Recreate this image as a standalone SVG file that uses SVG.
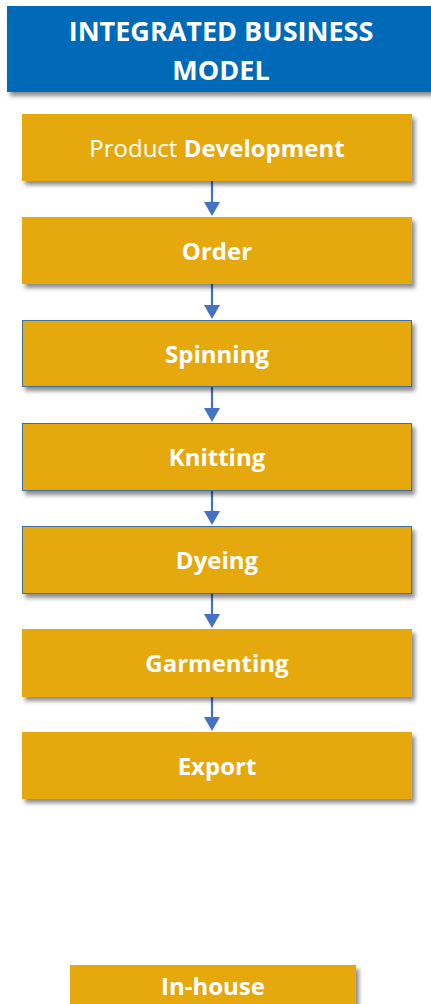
<svg xmlns="http://www.w3.org/2000/svg" width="431" height="1004" viewBox="0 0 431 1004">
<defs>
<filter id="sh" x="-10%" y="-20%" width="130%" height="160%">
<feDropShadow dx="3" dy="4" stdDeviation="2.2" flood-color="#000" flood-opacity="0.45"/>
</filter>
</defs>
<style>
.box{fill:#E5A810;filter:url(#sh)}
.bd{stroke:#41719C;stroke-width:1}
.t{font-family:"Open Sans","Liberation Sans",sans-serif;font-size:24px;font-weight:bold;fill:#fff;text-anchor:middle}
.h{font-family:"Open Sans","Liberation Sans",sans-serif;font-size:27px;font-weight:bold;fill:#fff;text-anchor:middle}
.c{stroke:#4472C4;stroke-width:2.2;fill:none}
.a{fill:#4472C4}
</style>
<rect width="431" height="1004" fill="#fff"/>
<g id="header">
<rect x="7" y="6" width="430" height="86" fill="#036AB8" filter="url(#sh)"/>
<text class="h" x="221" y="41">INTEGRATED BUSINESS</text>
<text class="h" x="221" y="80">MODEL</text>
</g>
<g id="connectors">
<line class="c" x1="212" y1="181" x2="212" y2="202"/><path class="a" d="M204,202 L220,202 L212,216 Z"/>
<line class="c" x1="212" y1="284" x2="212" y2="305"/><path class="a" d="M204,305 L220,305 L212,319 Z"/>
<line class="c" x1="212" y1="387" x2="212" y2="408"/><path class="a" d="M204,408 L220,408 L212,422 Z"/>
<line class="c" x1="212" y1="491" x2="212" y2="511"/><path class="a" d="M204,511 L220,511 L212,525 Z"/>
<line class="c" x1="212" y1="594" x2="212" y2="614"/><path class="a" d="M204,614 L220,614 L212,628 Z"/>
<line class="c" x1="212" y1="697" x2="212" y2="717"/><path class="a" d="M204,717 L220,717 L212,731 Z"/>
</g>
<g id="product-development">
<rect class="box" x="22" y="114" width="390" height="67"/>
<text class="t" x="217" y="157"><tspan font-weight="normal">Product </tspan>Development</text>
</g>
<g id="order">
<rect class="box" x="22" y="217" width="390" height="67"/>
<text class="t" x="217" y="260">Order</text>
</g>
<g id="spinning">
<rect class="box bd" x="22.5" y="320.5" width="389" height="66"/>
<text class="t" x="217" y="363">Spinning</text>
</g>
<g id="knitting">
<rect class="box bd" x="22.5" y="423.5" width="389" height="67"/>
<text class="t" x="217" y="466">Knitting</text>
</g>
<g id="dyeing">
<rect class="box bd" x="22.5" y="526.5" width="389" height="67"/>
<text class="t" x="217" y="569">Dyeing</text>
</g>
<g id="garmenting">
<rect class="box" x="22" y="629" width="390" height="68"/>
<text class="t" x="217" y="672">Garmenting</text>
</g>
<g id="export">
<rect class="box" x="22" y="732" width="390" height="67"/>
<text class="t" x="217" y="775">Export</text>
</g>
<g id="in-house">
<rect class="box" x="70" y="965" width="286" height="50"/>
<text class="t" x="213" y="995">In-house</text>
</g>
</svg>
